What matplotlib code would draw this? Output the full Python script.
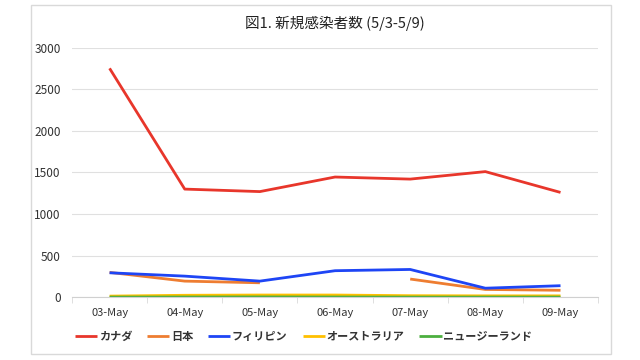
import numpy as np
import matplotlib.pyplot as plt
from matplotlib.patches import Rectangle

plt.rcParams['font.family'] = ['Noto Sans CJK JP', 'DejaVu Sans']

dates = ["03-May", "04-May", "05-May", "06-May", "07-May", "08-May", "09-May"]
canada = [2750, 1300, 1270, 1445, 1420, 1510, 1260]
japan = [300, 195, 175, np.nan, 220, 95, 85]
philippines = [295, 255, 195, 320, 335, 110, 140]
australia = [15, 25, 28, 28, 20, 18, 18]
new_zealand = [3, 4, 5, 4, 3, 3, 3]

series = [
    ("カナダ", canada, "#E8362B"),
    ("日本", japan, "#EE7D31"),
    ("フィリピン", philippines, "#1E45F5"),
    ("オーストラリア", australia, "#FFC000"),
    ("ニュージーランド", new_zealand, "#4CAF3F"),
]

fig = plt.figure(figsize=(6.4, 3.6), dpi=100)
ax = fig.add_axes([0.1125, 0.174, 0.822, 0.694])

x = np.arange(len(dates))
for name, vals, col in series:
    ax.plot(x, vals, color=col, lw=2, label=name, solid_capstyle='butt')

ax.set_xlim(-0.5, len(dates) - 0.5)
ax.set_ylim(0, 3000)
ax.set_yticks(range(0, 3001, 500))
ax.set_xticks(x)
ax.set_xticklabels(dates)
ax.set_xticks(np.arange(-0.5, len(dates)), minor=True)
ax.tick_params(axis='x', which='major', length=0, pad=8, labelsize=8, colors='#333333')
ax.tick_params(axis='x', which='minor', length=4, color='#d9d9d9', direction='out')
ax.tick_params(axis='y', length=0, pad=8, labelsize=8.5, colors='#333333')
ax.grid(axis='y', color='#e0e0e0', lw=0.8)
ax.set_axisbelow(True)
for s in ['top', 'right', 'left']:
    ax.spines[s].set_visible(False)
ax.spines['bottom'].set_color('#d0d0d0')

ax.set_title("図1. 新規感染者数 (5/3-5/9)", fontsize=10.5, color='#222222', pad=14)

leg = ax.legend(loc='center', bbox_to_anchor=(0.44, -0.155), ncol=5, frameon=False,
                fontsize=8, handlelength=2.0, columnspacing=1.35, handletextpad=0.15)
for t in leg.get_texts():
    t.set_fontweight('bold')
    t.set_color('#333333')

fig.patches.append(Rectangle((31 / 640, 1 - 354 / 360), 580 / 640, 349 / 360,
                             transform=fig.transFigure, fill=False,
                             edgecolor='#d9d9d9', lw=1))

fig.savefig("out.png", dpi=100)
